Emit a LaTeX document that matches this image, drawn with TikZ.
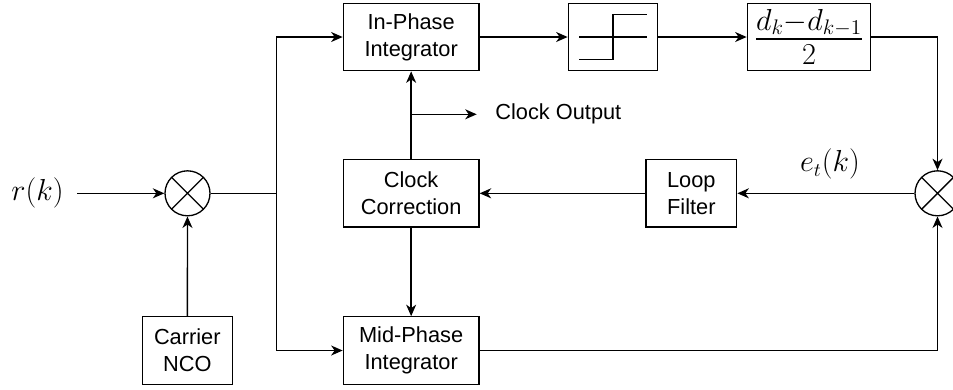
\documentclass[tikz,border=0pt]{standalone}
\usepackage{amsmath,amssymb}
\usepackage{fontspec}
\setmainfont{Liberation Sans}
\usepackage{tikz}
\usetikzlibrary{arrows.meta,positioning}

\begin{document}
\begin{tikzpicture}[
        font=\fontsize{12.4}{15.3}\selectfont,
        line width=0.75pt,
        box/.style={draw=black, align=center, inner sep=2pt, minimum height=1.348cm},
        mixer/.style={circle, draw=black, minimum size=0.9cm, inner sep=0pt,
            path picture={\draw (path picture bounding box.north west) -- (path picture bounding box.south east)
                (path picture bounding box.north east) -- (path picture bounding box.south west);}},
        mathlbl/.style={font=\fontsize{16}{19}\selectfont},
        arr/.style={-{Stealth[length=2.3mm, width=2mm, inset=0.7mm]}}
    ]
        \useasboundingbox (0,0) rectangle (19.06,-7.78);

        % signal path
        \node[mathlbl, inner xsep=0.26cm] (rk) at (0.75, -3.866) {$r(k)$};
        \node[mixer] (mixL) at (3.75, -3.866) {};
        \coordinate (split) at (5.534, -3.866);
        \node[box, minimum width=1.8cm] (nco) at (3.746, -7.01) {Carrier\\NCO};

        \node[box, minimum width=2.714cm] (inph) at (8.223, -0.74) {In-Phase\\Integrator};
        \node[box, minimum width=1.788cm] (step) at (12.26, -0.74) {};
        \node[box, minimum width=2.468cm, inner sep=0pt, font=\fontsize{23}{27}\selectfont] (frac) at (16.18, -0.74)
            {$\frac{d_k-d_{k-1}}{2}$};
        \node[mixer] (mixR) at (18.75, -3.866) {};

        \node[box, minimum width=2.714cm] (clk) at (8.223, -3.866) {Clock\\Correction};
        \node[box, minimum width=1.814cm] (loop) at (13.827, -3.866) {Loop\\Filter};
        \node[box, minimum width=2.714cm] (mid) at (8.223, -7.01) {Mid-Phase\\Integrator};

        \node[mathlbl] (et) at (16.6, -3.28) {$e_t(k)$};
        \coordinate (tap) at (8.223, -2.286);
        \node[anchor=west, inner xsep=0.36cm] (clkout) at (9.534, -2.286) {Clock Output};

        % hard limiter symbol
        \draw[shift={(step.center)}] (-0.68,0) -- (0.68,0)
            (-0.68,-0.45) -- (0,-0.45) -- (0,0.45) -- (0.68,0.45);

        \draw[arr] (rk) -- (mixL);
        \draw[arr] (nco) -- (mixL);
        \draw (mixL) -- (split);
        \draw[arr] (split) |- (inph);
        \draw[arr] (split) |- (mid);
        \draw[arr] (inph) -- (step);
        \draw[arr] (step) -- (frac);
        \draw[arr] (frac) -| (mixR);
        \draw[arr] (mid) -| (mixR);
        \draw[arr] (mixR) -- (loop);
        \draw[arr] (loop) -- (clk);
        \draw[arr] (clk) -- (inph);
        \draw[arr] (clk) -- (mid);
        \draw[arr] (tap) -- (clkout);
    \end{tikzpicture}
\end{document}
